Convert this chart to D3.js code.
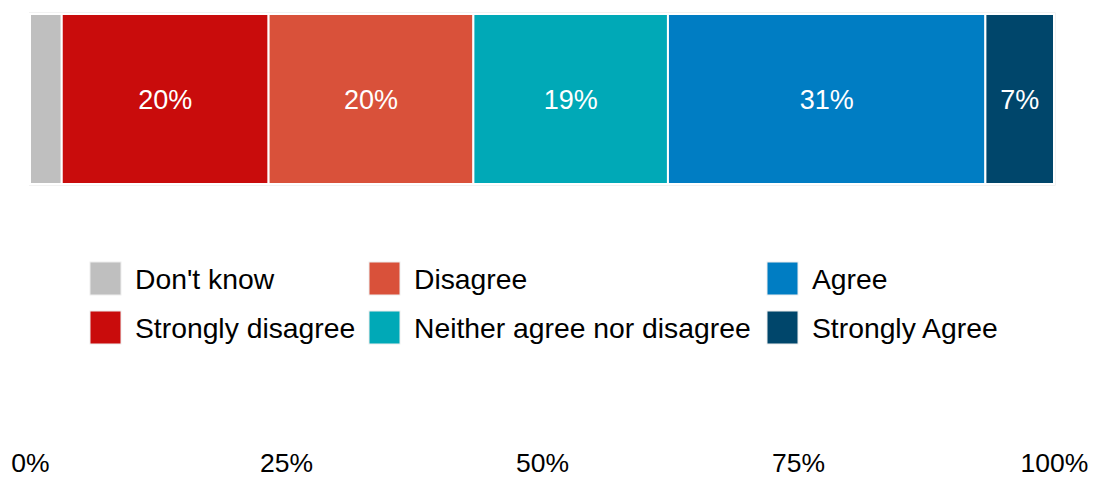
<!DOCTYPE html>
<html><head><meta charset="utf-8">
<script src="https://cdn.jsdelivr.net/npm/d3@7"></script>
<style>body{margin:0;background:#fff;} svg{display:block;font-family:"Liberation Sans",Arial,sans-serif;}</style>
</head><body>
<svg id="c" width="1096" height="478"></svg>
<script>
const categories = ["Don't know","Strongly disagree","Disagree","Neither agree nor disagree","Agree","Strongly Agree"];
const values = [3.1, 20.2, 20.0, 19.0, 31.0, 6.7];
const labels = ["", "20%", "20%", "19%", "31%", "7%"];
const colors = ["#bfbfbf","#c90c0c","#d9513a","#00a9b7","#007dc3","#00466b"];
const tickValues = [0,25,50,75,100];
const tickLabels = ["0%","25%","50%","75%","100%"];

const svg = d3.select("#c");
const x = d3.scaleLinear().domain([0,100]).range([30,1054]);
const barY = 14, barH = 170;

let cum = 0;
const segs = values.map((v,i)=>{const s={cat:categories[i],v,start:cum,end:cum+v,label:labels[i],color:colors[i]};cum+=v;return s;});

svg.append("rect").attr("x",x(0)-0.5).attr("y",barY-1).attr("width",x(100)-x(0)+1.5).attr("height",barH+2)
  .attr("fill","none").attr("stroke","#e6e6e6").attr("stroke-width",1);

svg.selectAll("rect.seg").data(segs).enter().append("rect").attr("class","seg")
  .attr("x",d=>x(d.start)).attr("y",barY).attr("width",d=>x(d.end)-x(d.start)).attr("height",barH)
  .attr("fill",d=>d.color).attr("stroke","#fff").attr("stroke-width",2);

svg.selectAll("text.lab").data(segs).enter().append("text").attr("class","lab")
  .attr("x",d=>(x(d.start)+x(d.end))/2).attr("y",barY+barH/2+10)
  .attr("text-anchor","middle").attr("fill","#fff").attr("font-size",27).text(d=>d.label);

// legend
const legPos = [[90,262],[90,311],[369,262],[369,311],[767,262],[767,311]];
const leg = svg.selectAll("g.leg").data(segs).enter().append("g").attr("class","leg")
  .attr("transform",(d,i)=>`translate(${legPos[i][0]},${legPos[i][1]})`);
leg.append("rect").attr("width",31).attr("height",33).attr("fill",d=>d.color).attr("stroke","#eeeeee").attr("stroke-width",1);
leg.append("text").attr("x",45).attr("y",27).attr("font-size",28.3).attr("fill","#000").text(d=>d.cat);

// axis
const axis = d3.axisBottom(x).tickValues(tickValues).tickFormat((d,i)=>tickLabels[i]).tickSize(0).tickPadding(0);
const ag = svg.append("g").attr("transform","translate(0,472)").call(axis);
ag.select(".domain").remove();
ag.selectAll("text").attr("font-size",26.5).attr("fill","#000").attr("font-family","Liberation Sans, Arial, sans-serif").attr("dy","0");
</script>
</body></html>
